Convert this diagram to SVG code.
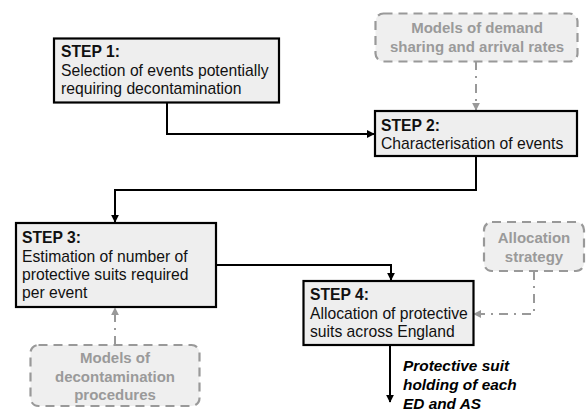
<svg xmlns="http://www.w3.org/2000/svg" width="586" height="412" viewBox="0 0 586 412">
<defs>
<marker id="ah" viewBox="0 0 10 10" refX="9" refY="5" markerWidth="4" markerHeight="4" orient="auto" markerUnits="strokeWidth">
<path d="M0,0 L10,5 L0,10 z" fill="#000"/>
</marker>
<marker id="ahg" viewBox="0 0 10 10" refX="9" refY="5" markerWidth="4" markerHeight="4" orient="auto" markerUnits="strokeWidth">
<path d="M0,0 L10,5 L0,10 z" fill="#999"/>
</marker>
<style>
.step rect{fill:#eeeeee;stroke:#000;stroke-width:2.2}
.step text{font-family:"Liberation Sans",Arial,sans-serif;font-size:15.7px;fill:#111}
.step .t{font-weight:bold}
.aux rect{fill:#efefef;stroke:#999;stroke-width:2.2;stroke-dasharray:9 6}
.aux text{font-family:"Liberation Sans",Arial,sans-serif;font-size:15px;font-weight:bold;fill:#9a9a9a;text-anchor:middle}
.c{fill:none;stroke:#000;stroke-width:2;marker-end:url(#ah)}
.d{fill:none;stroke:#999;stroke-width:2;stroke-dasharray:9 6 2 6;marker-end:url(#ahg)}
.out{font-family:"Liberation Sans",Arial,sans-serif;font-size:15.4px;font-weight:bold;font-style:italic;fill:#000}
</style>
</defs>
<g id="connectors">
<path class="c" d="M167,102 V134 H374"/>
<path class="c" d="M476,156 V190 H115 V222"/>
<path class="c" d="M216,265 H391 V280"/>
<path class="c" d="M390,345 V402"/>
<path class="d" d="M476,61 V110"/>
<path class="d" d="M534,271 V314 H474"/>
<path class="d" d="M115,345 V308"/>
</g>
<g id="step1" class="step">
<rect x="54" y="38.5" width="225" height="64"/>
<text class="t" x="61" y="57">STEP 1:</text>
<text x="61" y="76">Selection of events potentially</text>
<text x="61" y="94">requiring decontamination</text>
</g>
<g id="step2" class="step">
<rect x="375" y="111" width="202" height="45"/>
<text class="t" x="381" y="131">STEP 2:</text>
<text x="381" y="149">Characterisation of events</text>
</g>
<g id="step3" class="step">
<rect x="16" y="223" width="200" height="84"/>
<text class="t" x="22" y="243">STEP 3:</text>
<text x="22" y="262">Estimation of number of</text>
<text x="22" y="280">protective suits required</text>
<text x="22" y="298">per event</text>
</g>
<g id="step4" class="step">
<rect x="303.5" y="281" width="170" height="64"/>
<text class="t" x="310" y="300">STEP 4:</text>
<text x="310" y="319">Allocation of protective</text>
<text x="310" y="337">suits across England</text>
</g>
<g id="models-demand" class="aux">
<rect x="375.5" y="13.5" width="202" height="48" rx="8"/>
<text x="477" y="33">Models of demand</text>
<text x="477" y="52">sharing and arrival rates</text>
</g>
<g id="allocation-strategy" class="aux">
<rect x="484" y="222" width="100" height="49" rx="8"/>
<text x="534" y="243">Allocation</text>
<text x="534" y="262">strategy</text>
</g>
<g id="models-decon" class="aux">
<rect x="30.5" y="345" width="169" height="61" rx="8"/>
<text x="115" y="363">Models of</text>
<text x="115" y="382">decontamination</text>
<text x="115" y="400">procedures</text>
</g>
<g id="output-label">
<text class="out" x="403" y="371">Protective suit</text>
<text class="out" x="403" y="390">holding of each</text>
<text class="out" x="403" y="409">ED and AS</text>
</g>
</svg>
